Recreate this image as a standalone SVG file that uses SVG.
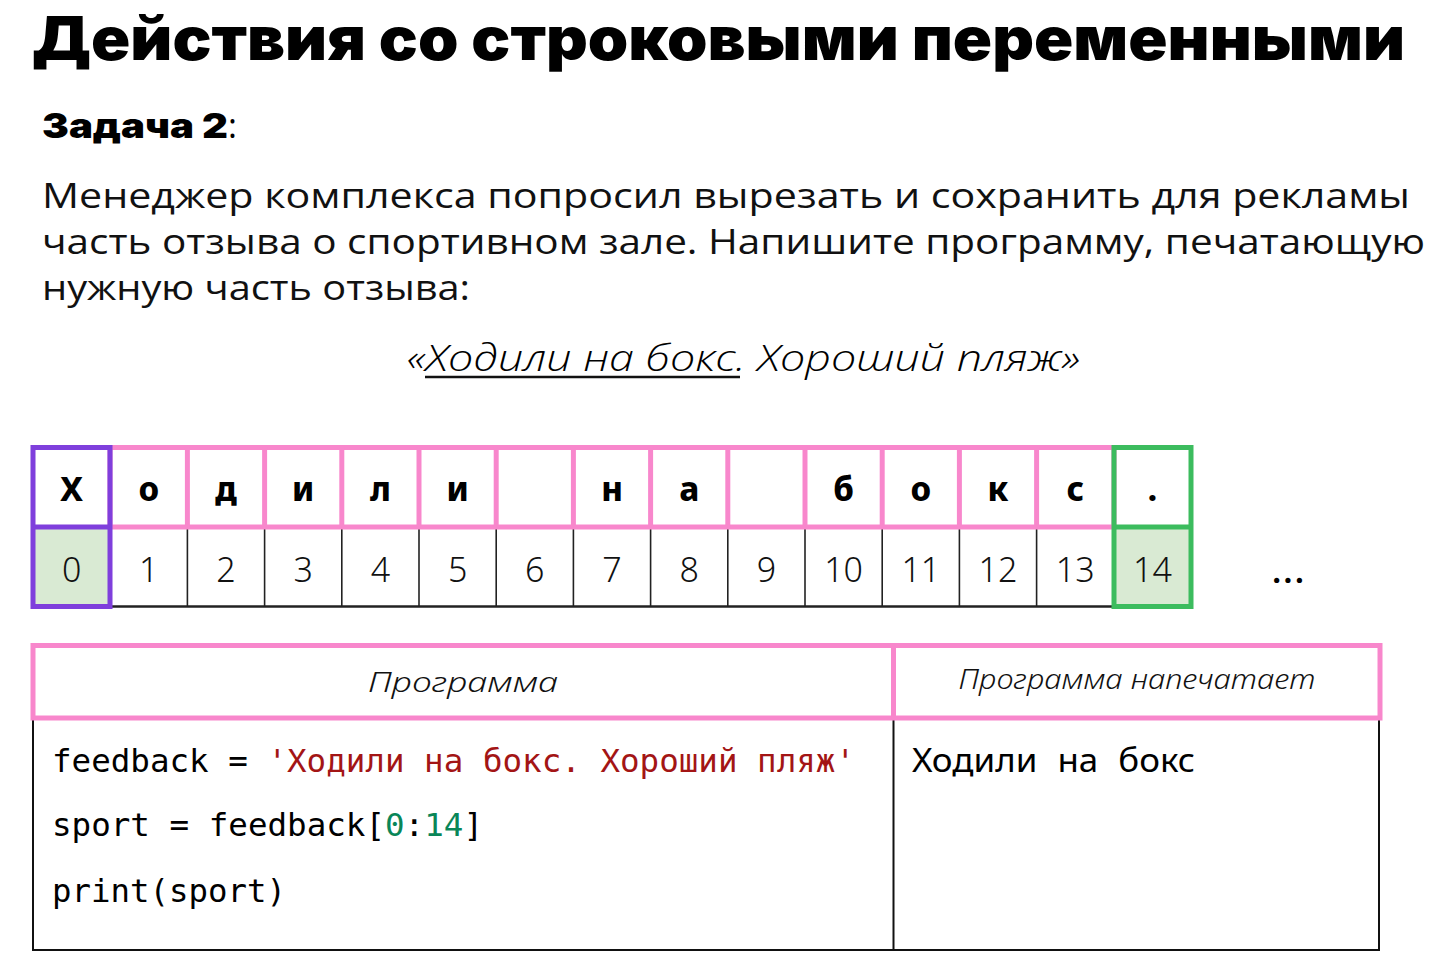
<svg xmlns="http://www.w3.org/2000/svg" width="1431" height="962" viewBox="0 0 1431 962">
<style>
.title{font-family:Inter,"Noto Sans","DejaVu Sans",sans-serif;font-weight:900;font-size:60px;fill:#000}
.task{font-family:Inter,"Noto Sans",sans-serif;font-weight:900;font-size:34px;fill:#000}
.para{font-family:"Open Sans","Noto Sans",sans-serif;font-weight:400;font-size:35px;fill:#111}
.quote{font-family:"Open Sans","Noto Sans",sans-serif;font-style:italic;font-weight:300;font-size:36px;fill:#000}
.ch{font-family:"Noto Sans","Open Sans",sans-serif;font-weight:800;font-size:33px;fill:#000;text-anchor:middle}
.num{font-family:"Noto Sans","Open Sans",sans-serif;font-weight:300;font-size:34px;fill:#111;text-anchor:middle}
.hdr{font-family:"Noto Sans","Open Sans",sans-serif;font-style:italic;font-weight:300;font-size:28px;fill:#111;text-anchor:middle}
.code{font-family:"DejaVu Sans Mono","Liberation Mono",monospace;font-size:32px;fill:#000}
.str{fill:#a31515}
.n{fill:#098658}
.out{font-family:"Noto Sans","Open Sans",sans-serif;font-size:32px;fill:#000;word-spacing:10px}
.pink{fill:none;stroke:#f887cc;stroke-width:5}
.thin{stroke:#222;stroke-width:1.6;fill:none}
</style>
<g id="title"><text class="title" x="32" y="60" textLength="1373" lengthAdjust="spacingAndGlyphs">Действия со строковыми переменными</text></g>
<g id="task"><text class="task" x="42" y="138" textLength="186" lengthAdjust="spacingAndGlyphs">Задача 2</text><text x="228" y="138" style="font-family:'Open Sans',sans-serif;font-size:34px;fill:#000">:</text></g>
<g id="paragraph">
<text class="para" x="42" y="208" textLength="1368" lengthAdjust="spacingAndGlyphs">Менеджер комплекса попросил вырезать и сохранить для рекламы</text>
<text class="para" x="42" y="254" textLength="1383" lengthAdjust="spacingAndGlyphs">часть отзыва о спортивном зале. Напишите программу, печатающую</text>
<text class="para" x="42" y="300" textLength="428" lengthAdjust="spacingAndGlyphs">нужную часть отзыва:</text>
</g>
<g id="quote">
<text class="quote" x="407" y="371" textLength="673" lengthAdjust="spacingAndGlyphs">«Ходили на бокс. Хороший пляж»</text>
<line x1="425" y1="377" x2="740" y2="377" stroke="#111" stroke-width="2.5"/>
</g>
<g id="index-table">
<rect x="110" y="527" width="1004" height="80" fill="#fff"/>
<rect x="35" y="527" width="75" height="80" fill="#d9ead3"/>
<rect x="1114" y="527" width="77" height="80" fill="#d9ead3"/>
<g class="thin">
<line x1="187.4" y1="527" x2="187.4" y2="607"/><line x1="264.6" y1="527" x2="264.6" y2="607"/><line x1="341.8" y1="527" x2="341.8" y2="607"/><line x1="419" y1="527" x2="419" y2="607"/><line x1="496.2" y1="527" x2="496.2" y2="607"/><line x1="573.4" y1="527" x2="573.4" y2="607"/><line x1="650.6" y1="527" x2="650.6" y2="607"/><line x1="727.8" y1="527" x2="727.8" y2="607"/><line x1="805" y1="527" x2="805" y2="607"/><line x1="882.2" y1="527" x2="882.2" y2="607"/><line x1="959.4" y1="527" x2="959.4" y2="607"/><line x1="1036.6" y1="527" x2="1036.6" y2="607"/>
<line x1="110" y1="606.5" x2="1114" y2="606.5" stroke-width="2.5"/>
</g>
<rect class="pink" x="110" y="447.5" width="1004" height="79.5"/>
<g class="pink">
<line x1="187.4" y1="447.5" x2="187.4" y2="527"/><line x1="264.6" y1="447.5" x2="264.6" y2="527"/><line x1="341.8" y1="447.5" x2="341.8" y2="527"/><line x1="419" y1="447.5" x2="419" y2="527"/><line x1="496.2" y1="447.5" x2="496.2" y2="527"/><line x1="573.4" y1="447.5" x2="573.4" y2="527"/><line x1="650.6" y1="447.5" x2="650.6" y2="527"/><line x1="727.8" y1="447.5" x2="727.8" y2="527"/><line x1="805" y1="447.5" x2="805" y2="527"/><line x1="882.2" y1="447.5" x2="882.2" y2="527"/><line x1="959.4" y1="447.5" x2="959.4" y2="527"/><line x1="1036.6" y1="447.5" x2="1036.6" y2="527"/>
</g>
<rect x="33" y="447.5" width="77" height="159" fill="none" stroke="#7f3fdc" stroke-width="5"/>
<line x1="33" y1="527" x2="110" y2="527" stroke="#7f3fdc" stroke-width="5"/>
<rect x="1114" y="447.5" width="77" height="159" fill="none" stroke="#3cbc5e" stroke-width="5"/>
<line x1="1114" y1="527" x2="1191" y2="527" stroke="#3cbc5e" stroke-width="5"/>
<g>
<text class="ch" x="71.6" y="501">Х</text><text class="ch" x="148.8" y="501">о</text><text class="ch" x="226" y="501">д</text><text class="ch" x="303.2" y="501">и</text><text class="ch" x="380.4" y="501">л</text><text class="ch" x="457.6" y="501">и</text><text class="ch" x="612" y="501">н</text><text class="ch" x="689.2" y="501">а</text><text class="ch" x="843.6" y="501">б</text><text class="ch" x="920.8" y="501">о</text><text class="ch" x="998" y="501">к</text><text class="ch" x="1075.2" y="501">с</text><text class="ch" x="1152.4" y="501">.</text>
</g>
<g>
<text class="num" x="71.6" y="582">0</text><text class="num" x="148.8" y="582">1</text><text class="num" x="226" y="582">2</text><text class="num" x="303.2" y="582">3</text><text class="num" x="380.4" y="582">4</text><text class="num" x="457.6" y="582">5</text><text class="num" x="534.8" y="582">6</text><text class="num" x="612" y="582">7</text><text class="num" x="689.2" y="582">8</text><text class="num" x="766.4" y="582">9</text><text class="num" x="843.6" y="582">10</text><text class="num" x="920.8" y="582">11</text><text class="num" x="998" y="582">12</text><text class="num" x="1075.2" y="582">13</text><text class="num" x="1152.4" y="582">14</text>
</g>
<text x="1288" y="583" textLength="34" lengthAdjust="spacingAndGlyphs" style="font-family:'Noto Sans',sans-serif;font-weight:400;font-size:38px;fill:#000;text-anchor:middle">...</text>
</g>
<g id="program-table">
<rect x="33" y="718" width="1346" height="232" fill="none" stroke="#111" stroke-width="2"/>
<line x1="893.5" y1="718" x2="893.5" y2="950" stroke="#111" stroke-width="2"/>
<rect class="pink" x="33" y="645.5" width="1347" height="72.5"/>
<line class="pink" x1="893.5" y1="645.5" x2="893.5" y2="718"/>
<text class="hdr" x="463" y="692" textLength="190" lengthAdjust="spacingAndGlyphs">Программа</text>
<text class="hdr" x="1137" y="689" font-size="27" textLength="357" lengthAdjust="spacingAndGlyphs">Программа напечатает</text>
<text class="code" x="52" y="772" textLength="803" lengthAdjust="spacingAndGlyphs">feedback = <tspan class="str">'Ходили на бокс. Хороший пляж'</tspan></text>
<text class="code" x="52" y="836" textLength="431" lengthAdjust="spacingAndGlyphs">sport = feedback[<tspan class="n">0</tspan>:<tspan class="n">14</tspan>]</text>
<text class="code" x="52" y="902" textLength="234" lengthAdjust="spacingAndGlyphs">print(sport)</text>
<text class="out" x="912" y="772" textLength="283" lengthAdjust="spacingAndGlyphs">Ходили на бокс</text>
</g>
</svg>
